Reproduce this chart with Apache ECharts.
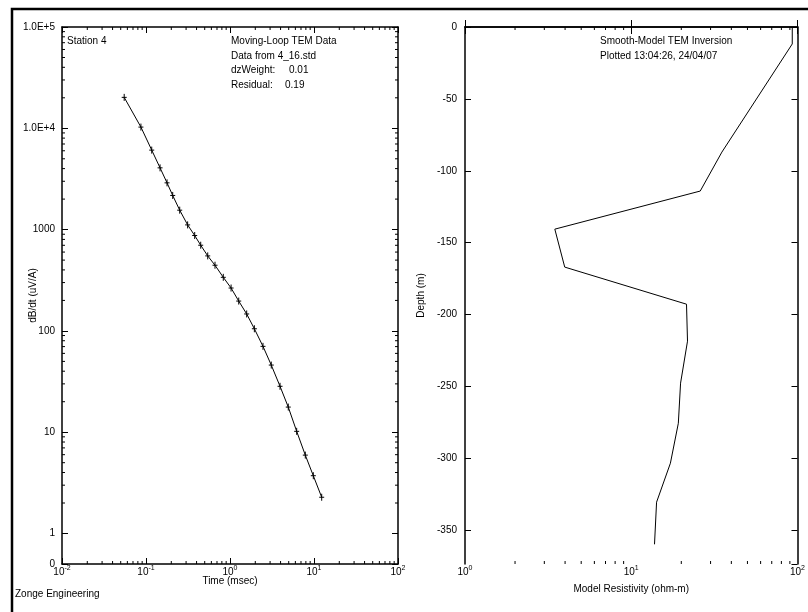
<!DOCTYPE html>
<html>
<head>
<meta charset="utf-8">
<script src="https://cdn.jsdelivr.net/npm/echarts@6/dist/echarts.min.js"></script>
<style>
html, body { margin: 0; padding: 0; background: #fff; }
#chart { width: 808px; height: 612px; }
</style>
</head>
<body>
<div id="chart"></div>
<script>
// left panel: measured dB/dt decay
const timeMs = [0.055, 0.087, 0.117, 0.147, 0.178, 0.208, 0.252, 0.313, 0.380, 0.448, 0.543, 0.663, 0.832,
    1.03, 1.27, 1.58, 1.95, 2.47, 3.10, 3.94, 4.94, 6.22, 7.88, 9.81, 12.35];
const dbdt = [20200, 10280, 6090, 4070, 2894, 2173, 1555, 1113, 874, 701, 550, 445, 338,
    265, 197, 147, 105, 70.4, 46.0, 28.4, 17.7, 10.2, 5.94, 3.72, 2.28];

// right panel: smooth model
const depthM = [0, -11.8, -87.0, -114.1, -140.6, -167.0, -192.8, -218.5, -247.7, -275.6, -303.4, -330.5, -359.8];
const resistivity = [93, 93, 35.1, 26.0, 3.47, 3.98, 21.5, 21.8, 19.8, 19.2, 17.2, 14.2, 13.8];

// log minor ticks
const minorSteps = [2, 3, 4, 5, 6, 7, 8, 9];
const timeDecades = [0.01, 0.1, 1, 10];
const dbdtDecades = [1, 10, 100, 1000, 10000];
const resDecades = [1, 10];

const FONT = 'Liberation Sans, Arial, sans-serif';

const chart = echarts.init(document.getElementById('chart'));

const minorOf = (decades) => {
    const out = [];
    decades.forEach(d => minorSteps.forEach(s => out.push(+(d * s).toPrecision(6))));
    return out;
};

const powLabel = (v) => {
    const e = Math.round(Math.log10(v));
    return '{a|10}{s|' + e + '}';
};
const powRich = {
    a: { fontSize: 10, lineHeight: 14, fontFamily: FONT, color: '#000' },
    s: { fontSize: 7, lineHeight: 8, verticalAlign: 'top', fontFamily: FONT, color: '#000' }
};

const dbdtLabel = (v) => {
    if (v < 1) return '0';
    if (v >= 10000) return v.toExponential(1).toUpperCase();
    return String(Math.round(v));
};

const axisLine = { show: true, lineStyle: { color: '#000', width: 1.5 } };
const tick = (len) => ({ show: true, inside: true, length: len, lineStyle: { color: '#000', width: 1 } });
const nameStyle = { fontSize: 10, fontFamily: FONT, color: '#000' };

// x-direction minor ticks (bottom + top edge)
const xMinor = (xi, yi, vals, yRef, len) => ({
    type: 'custom', xAxisIndex: xi, yAxisIndex: yi, silent: true, clip: false, z: 5,
    data: vals.map(v => [v, yRef]),
    renderItem: (params, api) => {
        const cs = params.coordSys;
        const x = api.coord([api.value(0), api.value(1)])[0];
        const st = { stroke: '#000', lineWidth: 1 };
        return { type: 'group', children: [
            { type: 'line', shape: { x1: x, y1: cs.y + cs.height, x2: x, y2: cs.y + cs.height - len }, style: st },
            { type: 'line', shape: { x1: x, y1: cs.y, x2: x, y2: cs.y + len }, style: st }
        ] };
    }
});
// y-direction minor ticks (left + right edge)
const yMinor = (xi, yi, vals, xRef, len) => ({
    type: 'custom', xAxisIndex: xi, yAxisIndex: yi, silent: true, clip: false, z: 5,
    data: vals.map(v => [xRef, v]),
    renderItem: (params, api) => {
        const cs = params.coordSys;
        const y = api.coord([api.value(0), api.value(1)])[1];
        const st = { stroke: '#000', lineWidth: 1 };
        return { type: 'group', children: [
            { type: 'line', shape: { x1: cs.x, y1: y, x2: cs.x + len, y2: y }, style: st },
            { type: 'line', shape: { x1: cs.x + cs.width, y1: y, x2: cs.x + cs.width - len, y2: y }, style: st }
        ] };
    }
});

const txt = (x, y, s) => ({
    type: 'text', left: x, top: y - 6,
    style: { text: s, fontSize: 10, fontFamily: FONT, fill: '#000' }
});

chart.setOption({
    animation: false,
    backgroundColor: '#fff',
    textStyle: { fontFamily: FONT, color: '#000' },
    grid: [
        { left: 62, top: 27, width: 336, height: 537 },
        { left: 465, top: 27, width: 336, height: 537 }
    ],
    xAxis: [
        {
            type: 'log', gridIndex: 0, min: 0.01, max: 100, splitNumber: 4, position: 'bottom',
            axisLine, axisTick: tick(6), splitLine: { show: false },
            axisLabel: { margin: 1, formatter: powLabel, rich: powRich },
            name: 'Time (msec)', nameLocation: 'middle', nameGap: 12, nameMoveOverlap: false,
            nameTextStyle: nameStyle
        },
        {
            type: 'log', gridIndex: 0, min: 0.01, max: 100, splitNumber: 4, position: 'top',
            axisLine, axisTick: tick(6), splitLine: { show: false }, axisLabel: { show: false }
        },
        {
            type: 'log', gridIndex: 1, min: 1, max: 100, splitNumber: 2, position: 'bottom',
            axisLine, axisTick: tick(7), splitLine: { show: false },
            axisLabel: { margin: 1, formatter: powLabel, rich: powRich },
            name: 'Model Resistivity (ohm-m)', nameLocation: 'middle', nameGap: 20, nameMoveOverlap: false,
            nameTextStyle: nameStyle
        },
        {
            type: 'log', gridIndex: 1, min: 1, max: 100, splitNumber: 2, position: 'top',
            axisLine, axisTick: tick(7), splitLine: { show: false }, axisLabel: { show: false }
        }
    ],
    yAxis: [
        {
            type: 'log', gridIndex: 0, min: 0.5, max: 100000, splitNumber: 5, position: 'left',
            axisLine, axisTick: tick(6), splitLine: { show: false },
            axisLabel: { margin: 7, fontSize: 10, color: '#000', formatter: dbdtLabel },
            name: 'dB/dt (uV/A)', nameLocation: 'middle', nameGap: 24, nameRotate: 90, nameMoveOverlap: false,
            nameTextStyle: nameStyle
        },
        {
            type: 'log', gridIndex: 0, min: 0.5, max: 100000, splitNumber: 5, position: 'right',
            axisLine, axisTick: tick(6), splitLine: { show: false }, axisLabel: { show: false }
        },
        {
            type: 'value', gridIndex: 1, min: -373.5, max: 0, splitNumber: 7, position: 'left',
            axisLine, axisTick: tick(6), splitLine: { show: false },
            axisLabel: {
                margin: 8, fontSize: 10, color: '#000', showMinLabel: false,
                formatter: (v) => (v % 50 === 0 ? String(v) : '')
            },
            name: 'Depth (m)', nameLocation: 'middle', nameGap: 39, nameRotate: 90, nameMoveOverlap: false,
            nameTextStyle: nameStyle
        },
        {
            type: 'value', gridIndex: 1, min: -373.5, max: 0, splitNumber: 7, position: 'right',
            axisLine, axisTick: tick(6), splitLine: { show: false }, axisLabel: { show: false }
        }
    ],
    series: [
        {
            type: 'line', xAxisIndex: 0, yAxisIndex: 0, showSymbol: false, symbol: 'none',
            lineStyle: { color: '#000', width: 1 },
            data: timeMs.map((t, i) => [t, dbdt[i]])
        },
        {
            type: 'custom', xAxisIndex: 0, yAxisIndex: 0, z: 4,
            data: timeMs.map((t, i) => [t, dbdt[i]]),
            renderItem: (params, api) => {
                const p = api.coord([api.value(0), api.value(1)]);
                const st = { stroke: '#000', lineWidth: 1 };
                return { type: 'group', children: [
                    { type: 'line', shape: { x1: p[0], y1: p[1] - 3.5, x2: p[0], y2: p[1] + 3.5 }, style: st },
                    { type: 'line', shape: { x1: p[0] - 2.5, y1: p[1], x2: p[0] + 2.5, y2: p[1] }, style: st }
                ] };
            }
        },
        {
            type: 'line', xAxisIndex: 2, yAxisIndex: 2, showSymbol: false, symbol: 'none',
            lineStyle: { color: '#000', width: 1 },
            data: resistivity.map((r, i) => [r, depthM[i]])
        },
        xMinor(0, 0, minorOf(timeDecades), 1, 3),
        yMinor(0, 0, minorOf(dbdtDecades), 1, 3),
        xMinor(2, 2, minorOf(resDecades), -100, 3)
    ],
    graphic: [
        { type: 'rect', shape: { x: 12, y: 9, width: 900, height: 700 }, style: { fill: 'none', stroke: '#000', lineWidth: 2.5 } },
        txt(67, 42.5, 'Station 4'),
        txt(231, 42.5, 'Moving-Loop TEM Data'),
        txt(231, 57, 'Data from 4_16.std'),
        txt(231, 71.5, 'dzWeight:'),
        txt(289, 71.5, '0.01'),
        txt(231, 86, 'Residual:'),
        txt(285, 86, '0.19'),
        txt(600, 42.5, 'Smooth-Model TEM Inversion'),
        txt(600, 57, 'Plotted 13:04:26, 24/04/07'),
        txt(15, 595, 'Zonge Engineering')
    ]
});
</script>
</body>
</html>
